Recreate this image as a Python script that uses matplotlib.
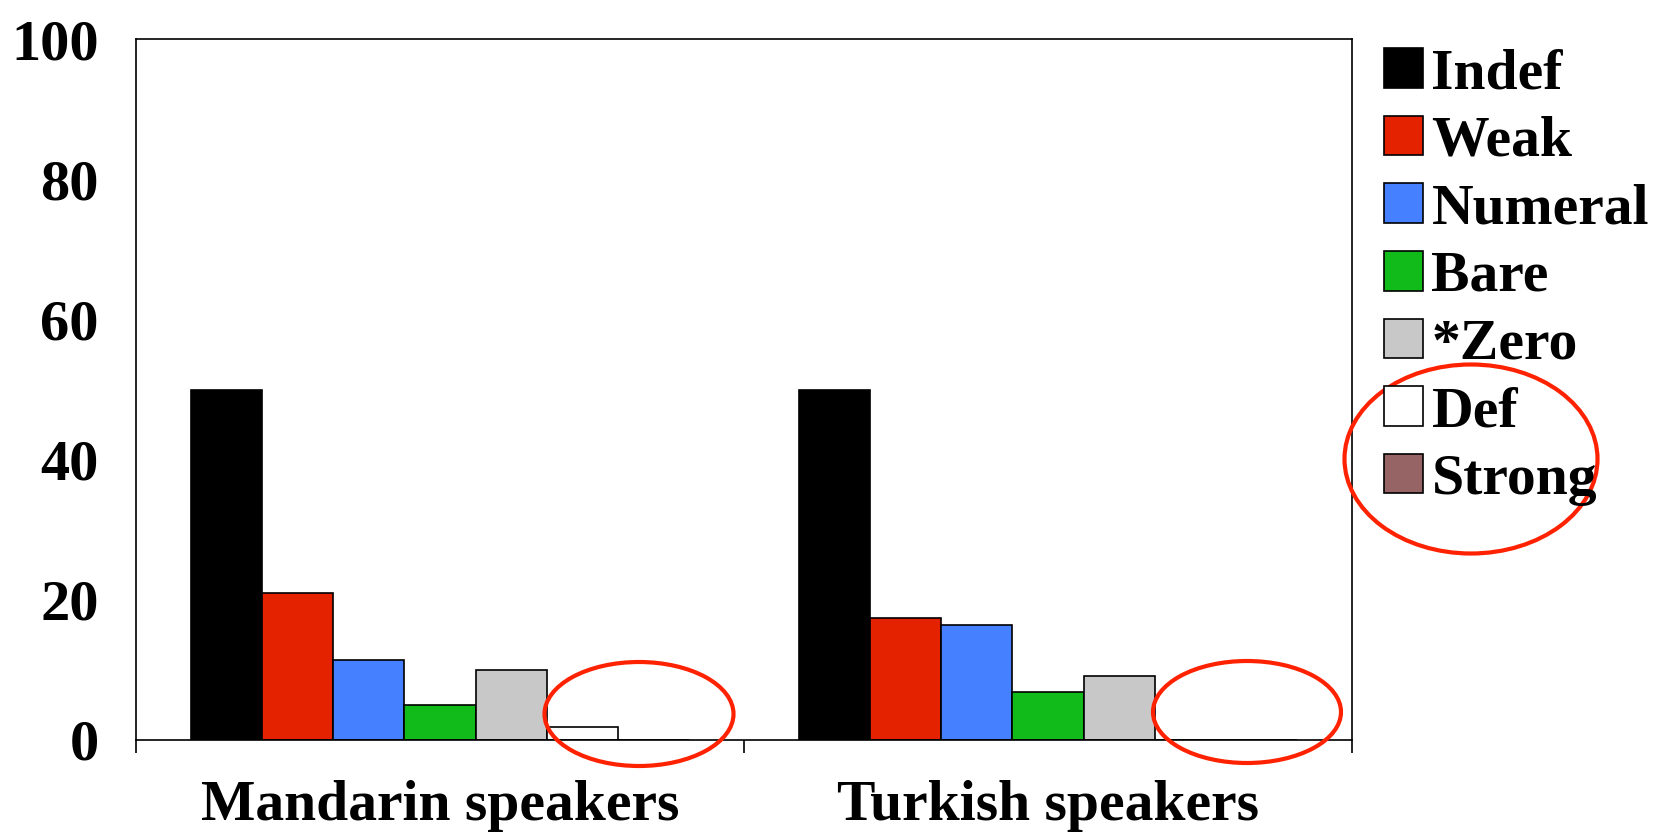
import matplotlib.pyplot as plt
from matplotlib.patches import Ellipse
import numpy as np

groups = ['Mandarin speakers', 'Turkish speakers']
categories = ['Indef', 'Weak', 'Numeral', 'Bare', '*Zero', 'Def', 'Strong']
mandarin = [50, 21, 11.4, 5, 10, 1.8, 0]
turkish = [50, 17.4, 16.4, 6.8, 9.1, 0, 0]
colors = ['#000000', '#E52200', '#4480FF', '#10BB1A', '#C8C8C8', '#FFFFFF', '#966464']

plt.rcParams['font.family'] = ['Liberation Serif', 'DejaVu Serif']
plt.rcParams['font.weight'] = 'bold'

fig = plt.figure(figsize=(16.67, 8.32), dpi=100)
ax = fig.add_axes([0.0816, 0.1106, 0.7294, 0.8424])

# one bar per category inside each group, groups sit between ticks 0-1 and 1-2
bar_w = 0.117
centers = np.arange(len(groups)) + 0.5
values = np.array([mandarin, turkish])
for i, cat in enumerate(categories):
    ax.bar(centers + (i - 3) * bar_w, values[:, i], width=bar_w, color=colors[i],
           edgecolor='black', linewidth=1.2, label=cat)

ax.set_xlim(0, 2)
ax.set_ylim(0, 100)
ax.set_yticks([0, 20, 40, 60, 80, 100])
ax.tick_params(axis='y', length=0, pad=27, labelsize=42)

# group boundaries get the tick marks, group names go on minor ticks
ax.set_xticks([0, 1, 2])
ax.set_xticklabels([])
ax.set_xticks(centers, minor=True)
ax.set_xticklabels(groups, minor=True)
ax.tick_params(axis='x', which='major', direction='out', length=9, width=1.2)
ax.tick_params(axis='x', which='minor', length=0, pad=29, labelsize=41.5)

for s in ax.spines.values():
    s.set_linewidth(1.2)

fig.legend(loc='upper left', bbox_to_anchor=(0.830, 0.942), frameon=False,
           fontsize=41.5, handlelength=0.68, handleheight=0.68, handletextpad=0.15,
           labelspacing=0.27, borderpad=0, borderaxespad=0)

# red rings around the empty Def / Strong entries
for cx, cy, w, h in [(639, 714, 189, 104), (1247, 712, 188, 102), (1471, 459, 253, 189)]:
    fig.patches.append(Ellipse((cx / 1667, 1 - cy / 832), w / 1667, h / 832,
                               transform=fig.transFigure, fill=False,
                               edgecolor='#FF2200', linewidth=3))

fig.savefig('out.png', dpi=100)
